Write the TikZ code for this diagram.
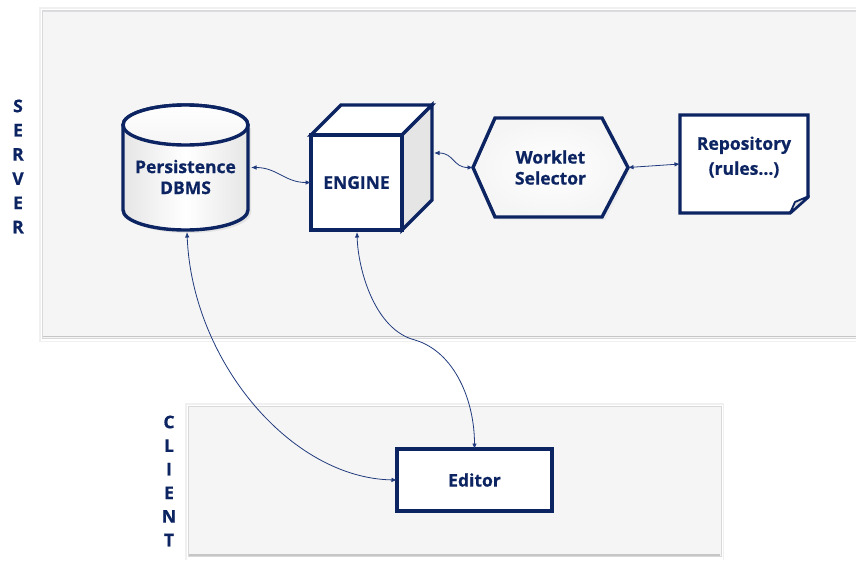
\documentclass[tikz,border=0pt]{standalone}
\usepackage{fontspec}
\setmainfont{Open Sans}[BoldFeatures={FakeBold=0.7}]
\usetikzlibrary{arrows.meta,calc}

\definecolor{navy}{RGB}{12,36,97}
\definecolor{wire}{RGB}{32,58,125}
\definecolor{panelfill}{RGB}{245,245,245}

\begin{document}
\begin{tikzpicture}[x=1pt,y=1pt,
  lbl/.style={font=\bfseries\fontsize{17.5}{21}\selectfont, text=navy, align=center, inner sep=0pt},
  letter/.style={font=\bfseries\fontsize{17.5}{20}\selectfont, text=navy, inner sep=0pt},
  outline/.style={draw=navy, line width=3.4pt, line join=miter},
  box/.style={inner sep=0pt, outer sep=0pt},
  link/.style={draw=wire, line width=0.8pt,
    {Latex[length=5.5pt,width=4.5pt]}-{Latex[length=5.5pt,width=4.5pt]}},
  panel/.style={fill=panelfill, draw=gray!30, line width=1pt},
]
\useasboundingbox (0,0) rectangle (856,-560);

% ---------- server panel ----------
\fill[gray!12] (39,-7) rectangle (870,-342);
\fill[white] (40.5,-8.5) rectangle (870,-340.5);
\draw[panel] (42,-10.5) rectangle (870,-338);
\draw[gray!45, line width=1.6pt] (43,-336.5) -- (870,-336.5);
\draw[blue!10!gray!25, line width=0.8pt] (43,-11.5) -- (870,-11.5);

% ---------- client panel ----------
\fill[gray!12] (185,-403) rectangle (724,-560);
\fill[white] (186.5,-404.5) rectangle (722.5,-560);
\draw[panel] (188,-406.5) rectangle (721,-556.5);
\draw[gray!45, line width=1.6pt] (189,-555) -- (720,-555);

% ---------- side labels ----------
\foreach \ch [count=\i from 0] in {S,E,R,V,E,R}
  \node[letter] (srv\i) at (18,-106-24.2*\i) {\ch};
\foreach \ch [count=\i from 0] in {C,L,I,E,N,T}
  \node[letter] (cli\i) at (169,-422-23.6*\i) {\ch};

% ---------- persistence DBMS (cylinder) ----------
\node[box, minimum width=125pt, minimum height=125pt] (db) at (185.5,-167.5) {};
\fill[gray!22] (126,-128) -- (126,-213)
  arc[start angle=180,end angle=360,x radius=62.5,y radius=20] -- (251,-128) -- cycle;
\shade[left color=gray!20, right color=gray!20, middle color=white, outline]
  (123,-125) -- (123,-210)
  arc[start angle=180,end angle=360,x radius=62.5,y radius=20]
  -- (248,-125) arc[start angle=0,end angle=180,x radius=62.5,y radius=20] -- cycle;
\shade[top color=white, bottom color=gray!8, outline]
  (185.5,-125) ellipse[x radius=62.5, y radius=20];
\node[lbl] (dbtext) at (185.5,-177) {Persistence\\DBMS};

% ---------- engine (cube) ----------
\node[box, minimum width=91pt, minimum height=95pt] (engine) at (356.5,-182.5) {};
\filldraw[fill=white, outline] (311,-135) -- (341,-105) -- (432,-105) -- (402,-135) -- cycle;
\filldraw[fill=gray!20, outline] (402,-135) -- (432,-105) -- (432,-200) -- (402,-230) -- cycle;
\filldraw[fill=white, outline] (engine.south west) rectangle (engine.north east);
\node[lbl] (enginetext) at (engine.center) {ENGINE};
\coordinate (eside) at (434,-153);

% ---------- worklet selector (hexagon) ----------
\node[box, minimum width=155pt, minimum height=99pt] (ws) at (550.5,-167.5) {};
\path[fill=gray!14]
  ($(ws.west)+(3,-3)$) -- ($(ws.north west)+(25,-3)$) -- ($(ws.north east)+(-23,-3)$)
  -- ($(ws.east)+(3,-3)$) -- ($(ws.south east)+(-23,-3)$) -- ($(ws.south west)+(25,-3)$) -- cycle;
\shade[inner color=white, outer color=gray!8, outline]
  (ws.west) -- ($(ws.north west)+(22,0)$) -- ($(ws.north east)+(-26,0)$)
  -- (ws.east) -- ($(ws.south east)+(-26,0)$) -- ($(ws.south west)+(22,0)$) -- cycle;
\node[lbl] (wstext) at (550.5,-167.5) {Worklet\\Selector};

% ---------- repository (note with curled corner) ----------
\node[box, minimum width=128pt, minimum height=98pt] (repo) at (744,-164) {};
\filldraw[fill=white, outline] (repo.north west) -- (repo.north east)
  -- ($(repo.south east)+(0,16)$) -- ($(repo.south east)+(-18,0)$)
  -- (repo.south west) -- cycle;
\filldraw[fill=gray!25, draw=navy, line width=1.8pt, line join=round]
  ($(repo.south east)+(-18,0)$) -- ($(repo.south east)+(-13,11)$)
  -- ($(repo.south east)+(1,17)$) -- cycle;
\node[lbl, font=\bfseries\fontsize{17.5}{25}\selectfont] (repotext) at (744,-157) {Repository\\(rules...)};

% ---------- editor ----------
\node[box, minimum width=155pt, minimum height=62pt, fill=white, outline] (editor) at (474.5,-480) {};
\node[lbl] (editortext) at (editor.center) {Editor};

% ---------- connectors ----------
\draw[link] ($(db.east)+(3,0)$) .. controls +(26,0) and +(-26,0) .. (engine.west);
\draw[link] (eside) .. controls +(20,0) and +(-20,0) .. (ws.west);
\draw[link] (ws.east) -- (repo.west);
\draw[link] ($(db.south)+(1.5,-2)$) .. controls (192,-360) and (290,-478) .. (editor.west);
\draw[link] ($(engine.south)+(0.5,-2)$) .. controls +(1,-38) and +(-40,10) .. (415,-340)
  .. controls +(40,-12) and +(0,48) .. (editor.north);
\end{tikzpicture}
\end{document}
